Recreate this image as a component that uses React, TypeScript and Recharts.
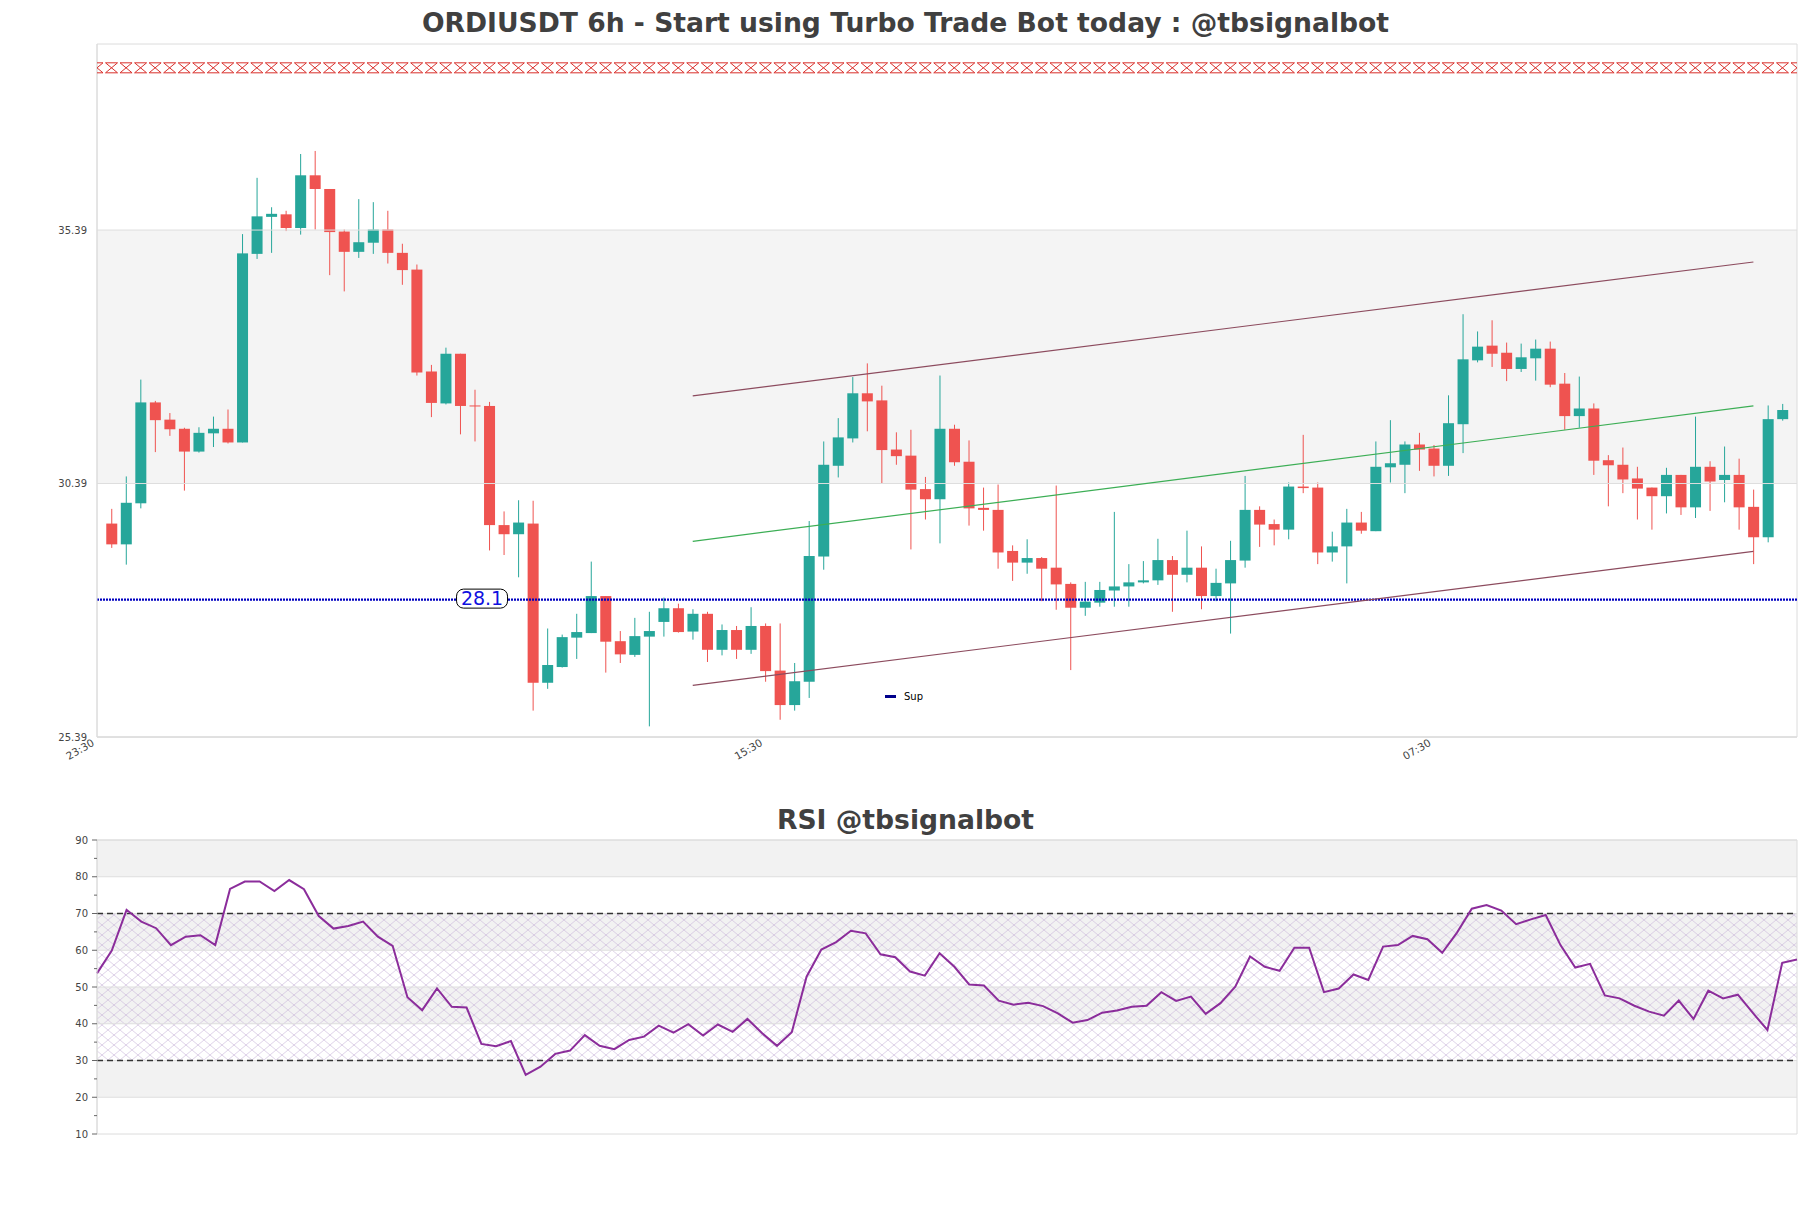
import React from 'react';
import {
  Bar,
  ComposedChart,
  Line,
  LineChart,
  ReferenceArea,
  ReferenceDot,
  ReferenceLine,
  Scatter,
  XAxis,
  YAxis,
} from 'recharts';

// candles (6h, 116 bars)
const opens = [
  29.6, 29.19, 30.0, 31.99, 31.65, 31.47, 31.02, 31.38, 31.47, 31.2,
  34.92, 35.65, 35.7, 35.43, 36.47, 36.2, 35.36, 34.96, 35.14, 35.4,
  34.94, 34.61, 32.6, 31.97, 32.95, 31.93, 31.92, 29.57, 29.39, 29.6,
  26.46, 26.77, 27.35, 27.44, 28.17, 27.28, 27.01, 27.37, 27.66, 27.93,
  27.47, 27.82, 27.11, 27.5, 27.11, 27.58, 26.7, 26.02, 26.48, 28.95,
  30.74, 31.28, 32.17, 32.03, 31.06, 30.94, 30.28, 30.08, 31.47, 30.82,
  29.91, 29.87, 29.06, 28.83, 28.92, 28.73, 28.41, 27.94, 28.04, 28.28,
  28.36, 28.44, 28.48, 28.88, 28.59, 28.73, 28.17, 28.42, 28.87, 29.87,
  29.59, 29.48, 30.33, 30.31, 29.03, 29.15, 29.62, 29.45, 30.71, 30.76,
  31.16, 31.08, 30.74, 31.56, 32.82, 33.11, 32.97, 32.65, 32.86, 33.05,
  32.36, 31.72, 31.87, 30.85, 30.76, 30.49, 30.31, 30.14, 30.56, 29.92,
  30.72, 30.46, 30.56, 29.93, 29.33, 31.66,
];
const highs = [
  29.89, 30.53, 32.44, 32.02, 31.78, 31.49, 31.5, 31.71, 31.85, 35.31,
  36.42, 35.84, 35.77, 36.89, 36.95, 36.2, 35.4, 36.0, 35.94, 35.77,
  35.12, 34.71, 32.73, 33.07, 32.95, 32.24, 32.0, 29.84, 30.06, 30.05,
  27.53, 27.41, 27.82, 28.85, 28.17, 27.48, 27.74, 27.86, 28.14, 28.02,
  27.91, 27.86, 27.61, 27.58, 27.95, 27.63, 27.63, 26.85, 29.65, 31.22,
  31.68, 32.49, 32.76, 32.32, 31.4, 31.45, 30.52, 32.52, 31.55, 31.24,
  30.31, 30.37, 29.17, 29.29, 28.94, 30.35, 28.44, 28.45, 28.45, 29.83,
  28.8, 28.86, 29.3, 28.96, 29.46, 29.15, 28.71, 29.26, 30.54, 29.94,
  29.68, 30.41, 31.35, 30.41, 29.44, 29.89, 29.83, 31.22, 31.64, 31.22,
  31.39, 31.15, 32.13, 33.73, 33.39, 33.61, 33.17, 33.15, 33.23, 33.19,
  32.57, 32.5, 31.97, 30.95, 31.1, 30.72, 30.31, 30.7, 30.56, 31.71,
  30.83, 31.12, 30.88, 30.27, 31.93, 31.96,
];
const lows = [
  29.12, 28.79, 29.9, 31.01, 31.33, 30.25, 31.0, 31.11, 31.18, 31.2,
  34.82, 34.94, 35.37, 35.3, 35.4, 34.5, 34.18, 34.84, 34.92, 34.73,
  34.31, 32.52, 31.7, 31.95, 31.36, 31.22, 29.07, 28.98, 28.54, 25.91,
  26.34, 26.76, 26.93, 27.44, 26.66, 26.85, 26.97, 25.6, 27.37, 27.45,
  27.31, 26.87, 27.0, 26.93, 27.03, 26.48, 25.73, 25.91, 26.16, 28.69,
  30.51, 31.2, 31.42, 30.39, 30.76, 29.09, 29.68, 29.21, 30.74, 29.56,
  29.46, 28.71, 28.47, 28.61, 28.07, 27.9, 26.71, 27.78, 27.96, 27.96,
  27.96, 28.42, 28.39, 27.86, 28.44, 27.91, 28.07, 27.43, 28.73, 29.14,
  29.17, 29.29, 30.2, 28.8, 28.85, 28.42, 29.4, 29.45, 30.41, 30.2,
  30.64, 30.53, 30.54, 30.99, 32.78, 32.69, 32.41, 32.59, 32.42, 32.29,
  31.45, 31.49, 30.56, 29.94, 30.2, 29.68, 29.48, 29.8, 29.77, 29.71,
  29.85, 30.02, 29.48, 28.8, 29.23, 31.63,
];
const closes = [
  29.19, 30.01, 31.99, 31.64, 31.46, 31.02, 31.39, 31.47, 31.2, 34.93,
  35.66, 35.71, 35.43, 36.47, 36.2, 35.35, 34.96, 35.15, 35.4, 34.94,
  34.6, 32.58, 31.98, 32.95, 31.92, 31.91, 29.57, 29.39, 29.62, 26.46,
  26.81, 27.36, 27.46, 28.17, 27.27, 27.02, 27.38, 27.48, 27.93, 27.46,
  27.82, 27.11, 27.5, 27.11, 27.58, 26.69, 26.02, 26.49, 28.96, 30.76,
  31.3, 32.17, 32.01, 31.05, 30.93, 30.27, 30.08, 31.47, 30.81, 29.9,
  29.87, 29.03, 28.83, 28.92, 28.71, 28.4, 27.94, 28.06, 28.29, 28.36,
  28.44, 28.48, 28.88, 28.59, 28.73, 28.17, 28.43, 28.88, 29.87, 29.58,
  29.48, 30.33, 30.3, 29.03, 29.15, 29.62, 29.46, 30.72, 30.79, 31.16,
  31.06, 30.74, 31.58, 32.84, 33.09, 32.95, 32.65, 32.88, 33.05, 32.34,
  31.72, 31.87, 30.84, 30.75, 30.47, 30.29, 30.14, 30.56, 29.92, 30.72,
  30.43, 30.56, 29.92, 29.33, 31.66, 31.84,
];

const rsiValues = [
  53.7, 59.9, 71.0, 67.8, 66.0, 61.4, 63.7, 64.1, 61.4, 76.7,
  78.7, 78.7, 76.1, 79.1, 76.6, 69.3, 65.9, 66.6, 67.8, 63.7,
  61.2, 47.2, 43.7, 49.6, 44.6, 44.4, 34.5, 33.9, 35.3, 26.1,
  28.3, 31.8, 32.7, 36.9, 34.0, 33.1, 35.6, 36.5, 39.5, 37.6,
  39.9, 36.8, 39.8, 37.8, 41.3, 37.4, 34.0, 37.7, 52.8, 60.2,
  62.2, 65.3, 64.6, 58.9, 58.1, 54.2, 53.1, 59.2, 55.5, 50.7,
  50.4, 46.3, 45.2, 45.7, 44.8, 42.8, 40.3, 41.0, 43.0, 43.6,
  44.6, 44.9, 48.6, 46.2, 47.4, 42.7, 45.6, 50.1, 58.3, 55.5,
  54.4, 60.7, 60.7, 48.6, 49.6, 53.4, 51.9, 61.0, 61.4, 63.9,
  63.0, 59.3, 64.8, 71.3, 72.3, 70.8, 67.1, 68.4, 69.6, 61.4,
  55.3, 56.3, 47.7, 46.9, 44.9, 43.3, 42.2, 46.3, 41.3, 49.0,
  46.9, 47.9, 43.0, 38.3, 56.6, 57.5,
];

const priceTicks = [25.39, 30.39, 35.39];
const priceDomain = [25.39, 39.06];
const xDomain = [-1, 116];
const xTickIdx = [-1, 45, 91];
const xTickLabels = ['23:30', '15:30', '07:30'];
const supportLevel = 28.1;
const supportLabelIdx = 25.5;
const markerLevel = 38.59;
const channelUpper = [{ i: 40, p: 32.12 }, { i: 113, p: 34.76 }];
const channelMid = [{ i: 40, p: 29.25 }, { i: 113, p: 31.92 }];
const channelLower = [{ i: 40, p: 26.41 }, { i: 113, p: 29.05 }];

const rsiTicks = [10, 15, 20, 25, 30, 35, 40, 45, 50, 55, 60, 65, 70, 75, 80, 85, 90];
const rsiGrid = [20, 30, 40, 50, 60, 70, 80, 90];
const rsiGreyBands = [[20, 30], [40, 50], [60, 70], [80, 90]];

const UP = '#26a69a';
const DOWN = '#ef5350';
const FONT = '"DejaVu Sans", Verdana, sans-serif';

const candles = opens.map((o, i) => ({
  i,
  open: o,
  high: highs[i],
  low: lows[i],
  close: closes[i],
  range: [lows[i], highs[i]],
}));
// the marker row runs edge to edge, so it also sits on the two padding slots
const markers = [xDomain[0], ...candles.map((c) => c.i), xDomain[1]].map((i) => ({ i, mark: markerLevel }));
const rsiRows = rsiValues.map((v, i) => ({ i, rsi: v }));

const Candle = (props: any) => {
  const { x, y, width, height, payload } = props;
  if (!payload) return null;
  const { open, close, high, low } = payload;
  const top = Math.min(y, y + height);
  const ratio = Math.abs(height) / (high - low || 1);
  const py = (v: number) => top + (high - v) * ratio;
  const color = close >= open ? UP : DOWN;
  const cx = x + width / 2;
  const bTop = py(Math.max(open, close));
  const bH = Math.max(1, py(Math.min(open, close)) - bTop);
  return (
    <g>
      <line x1={cx} x2={cx} y1={py(high)} y2={py(low)} stroke={color} strokeWidth={1} />
      <rect x={x} y={bTop} width={width} height={bH} fill={color} />
    </g>
  );
};

const XMark = (props: any) => {
  const { cx, cy } = props;
  const w = 6;
  const h = 5;
  return (
    <path
      d={`M${cx - w},${cy - h}L${cx + w},${cy - h}M${cx - w},${cy + h}L${cx + w},${cy + h}M${cx - w},${cy - h}L${cx + w},${cy + h}M${cx + w},${cy - h}L${cx - w},${cy + h}`}
      stroke="#d9302c"
      strokeWidth={1}
      fill="none"
    />
  );
};

const SupLabel = (props: any) => {
  const { cx, cy } = props;
  return (
    <g>
      <rect x={cx - 25.5} y={cy - 10.5} width={51} height={19} rx={7} fill="#fff" stroke="#000" strokeWidth={1} />
      <text x={cx} y={cy - 1} dy="0.36em" textAnchor="middle" fontSize={19} fill="#1010e0" fontFamily={FONT}>
        {supportLevel}
      </text>
    </g>
  );
};

const TimeTick = (props: any) => {
  const { x, y, payload } = props;
  const label = xTickLabels[xTickIdx.indexOf(payload.value)];
  const ax = x - 2;
  return (
    <text x={ax} y={y} transform={`rotate(-30, ${ax}, ${y})`} textAnchor="end" fontSize={10.5} fill="#444" fontFamily={FONT}>
      {label}
    </text>
  );
};

const RsiTick = (props: any) => {
  const { x, y, payload } = props;
  const major = payload.value % 10 === 0;
  return (
    <g>
      <line x1={x - (major ? 5 : 3)} x2={x} y1={y} y2={y} stroke="#666" strokeWidth={1} />
      {major && (
        <text x={x - 9} y={y} dy="0.35em" textAnchor="end" fontSize={10} fill="#444" fontFamily={FONT}>
          {payload.value}
        </text>
      )}
    </g>
  );
};

const titleStyle: React.CSSProperties = {
  position: 'absolute',
  left: 0,
  width: 1811,
  textAlign: 'center',
  fontFamily: FONT,
  fontWeight: 'bold',
  fontSize: 26.6,
  lineHeight: '27px',
  color: '#404040',
  whiteSpace: 'nowrap',
};

export default function App() {
  return (
    <div style={{ position: 'absolute', left: 0, top: 0, width: 1811, height: 1208, background: '#fff', overflow: 'hidden' }}>
      <svg width={0} height={0} style={{ position: 'absolute' }}>
        <defs>
          <pattern id="rsiHatch" width={12} height={10} patternUnits="userSpaceOnUse">
            <path d="M0,0L12,10M12,0L0,10" stroke="#c8b4d8" strokeWidth={0.6} fill="none" />
          </pattern>
        </defs>
      </svg>

      <div style={{ ...titleStyle, top: 9 }}>ORDIUSDT 6h - Start using Turbo Trade Bot today : @tbsignalbot</div>

      <div style={{ position: 'absolute', left: 0, top: 0 }}>
        <ComposedChart width={1811} height={780} data={candles} margin={{ top: 44, right: 14, bottom: 0, left: 0 }}>
          <XAxis
            dataKey="i"
            type="number"
            domain={xDomain}
            ticks={xTickIdx}
            interval={0}
            allowDataOverflow
            tick={<TimeTick />}
            tickLine={false}
            axisLine={{ stroke: '#dcdcdc' }}
            height={43}
          />
          <YAxis
            type="number"
            domain={priceDomain}
            ticks={priceTicks}
            interval={0}
            allowDataOverflow
            width={97}
            tickLine={false}
            tickMargin={4}
            axisLine={{ stroke: '#dcdcdc' }}
            tick={{ fontSize: 10, fill: '#444', fontFamily: FONT }}
          />
          <ReferenceArea y1={priceTicks[1]} y2={priceTicks[2]} fill="#f4f4f4" fillOpacity={1} stroke="none" />
          {priceTicks.map((t) => (
            <ReferenceLine key={t} y={t} stroke="#dedede" strokeWidth={1} />
          ))}
          <ReferenceArea x1={xDomain[0]} x2={xDomain[1]} y1={priceDomain[0]} y2={priceDomain[1]} fill="none" stroke="#dcdcdc" />
          <ReferenceLine y={supportLevel} stroke="#0000c0" strokeWidth={2.2} strokeDasharray="2 1" />
          <ReferenceLine segment={[{ x: channelUpper[0].i, y: channelUpper[0].p }, { x: channelUpper[1].i, y: channelUpper[1].p }]} stroke="#8c4b5e" strokeWidth={1.2} />
          <ReferenceLine segment={[{ x: channelMid[0].i, y: channelMid[0].p }, { x: channelMid[1].i, y: channelMid[1].p }]} stroke="#3cae55" strokeWidth={1.2} />
          <ReferenceLine segment={[{ x: channelLower[0].i, y: channelLower[0].p }, { x: channelLower[1].i, y: channelLower[1].p }]} stroke="#8c4b5e" strokeWidth={1.2} />
          <Bar dataKey="range" barSize={11} shape={<Candle />} isAnimationActive={false} />
          <Scatter data={markers} dataKey="mark" shape={<XMark />} isAnimationActive={false} />
          <ReferenceDot x={supportLabelIdx} y={supportLevel} shape={<SupLabel />} />
        </ComposedChart>
      </div>

      <div style={{ position: 'absolute', left: 885, top: 691, display: 'flex', alignItems: 'center', fontFamily: FONT, fontSize: 10, color: '#000' }}>
        <div style={{ width: 11, height: 2.5, background: '#00008b', marginRight: 8 }} />
        <span>Sup</span>
      </div>

      <div style={{ ...titleStyle, top: 806 }}>RSI @tbsignalbot</div>

      <div style={{ position: 'absolute', left: 0, top: 800 }}>
        <LineChart width={1811} height={360} data={rsiRows} margin={{ top: 40, right: 14, bottom: 26, left: 0 }}>
          <XAxis dataKey="i" type="number" domain={[0, rsiValues.length - 1]} hide />
          <YAxis
            type="number"
            domain={[10, 90]}
            ticks={rsiTicks}
            interval={0}
            width={97}
            tickSize={0}
            tickMargin={0}
            tickLine={false}
            axisLine={{ stroke: '#dcdcdc' }}
            tick={<RsiTick />}
          />
          {rsiGreyBands.map(([a, b]) => (
            <ReferenceArea key={a} y1={a} y2={b} fill="#f2f2f2" fillOpacity={1} stroke="none" />
          ))}
          <ReferenceArea y1={30} y2={70} fill="url(#rsiHatch)" fillOpacity={1} stroke="none" />
          {rsiGrid.map((g) => (
            <ReferenceLine key={g} y={g} stroke="#dedede" strokeWidth={1} />
          ))}
          <ReferenceArea x1={0} x2={rsiValues.length - 1} y1={10} y2={90} fill="none" stroke="#dcdcdc" />
          <ReferenceLine y={70} stroke="#333" strokeWidth={1.3} strokeDasharray="6 4" />
          <ReferenceLine y={30} stroke="#333" strokeWidth={1.3} strokeDasharray="6 4" />
          <Line dataKey="rsi" stroke="#8b2d9b" strokeWidth={2} dot={false} isAnimationActive={false} />
        </LineChart>
      </div>
    </div>
  );
}
